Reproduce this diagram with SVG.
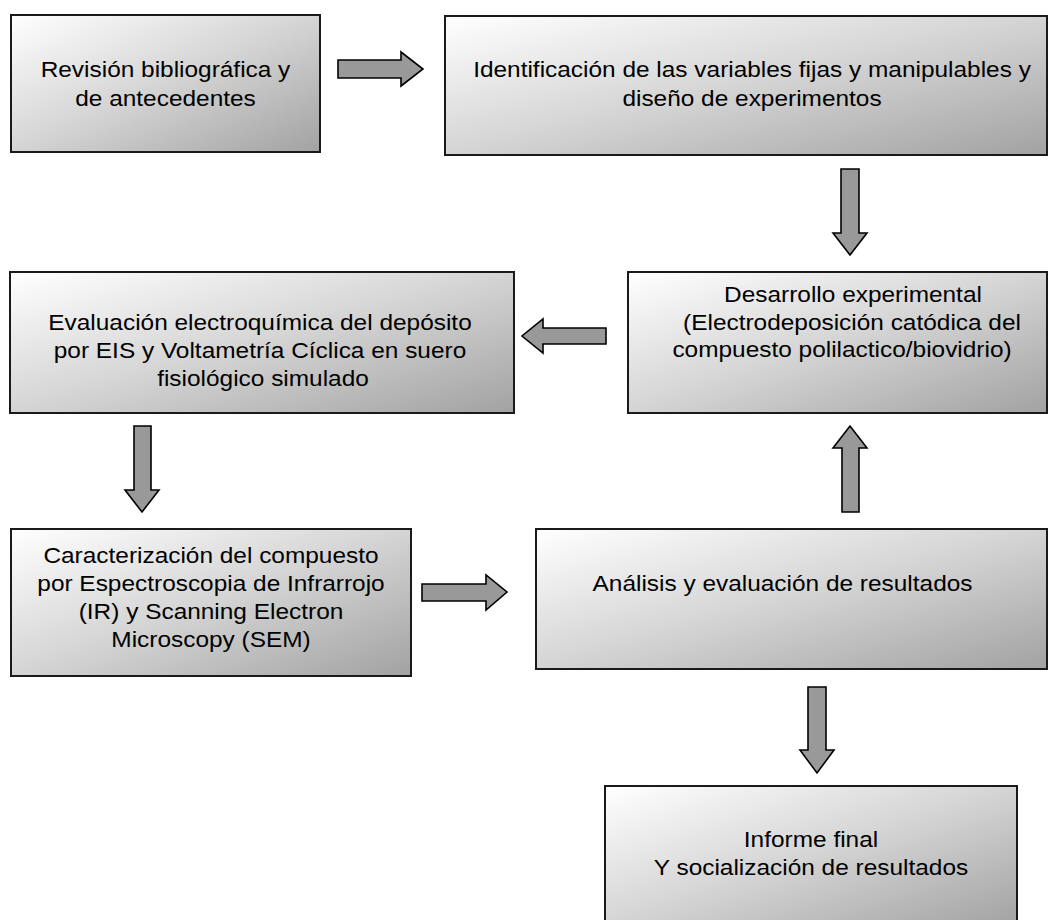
<svg xmlns="http://www.w3.org/2000/svg" width="1049" height="920" viewBox="0 0 1049 920">
<defs>
<linearGradient id="g" x1="0" y1="0" x2="1" y2="1">
<stop offset="0" stop-color="#ffffff"/>
<stop offset="0.5" stop-color="#d4d4d4"/>
<stop offset="1" stop-color="#a2a2a2"/>
</linearGradient>
<style>
.box{fill:url(#g);stroke:#1a1a1a;stroke-width:2}
.arr{fill:#999999;stroke:#000;stroke-width:1.6;stroke-linejoin:miter}
.t{font-family:"Liberation Sans",Arial,sans-serif;font-size:22px;fill:#000;text-anchor:middle}
</style>
</defs>
<rect width="1049" height="920" fill="#ffffff"/>
<g id="connectors">
<polygon class="arr" points="338,60 401,60 401,52 423,69 401,86 401,78 338,78"/>
<polygon class="arr" points="841,169 859,169 859,233 867,233 850,255 833,233 841,233"/>
<polygon class="arr" points="606,328 543,328 543,319 522,336 543,353 543,344 606,344"/>
<polygon class="arr" points="134,426 151,426 151,490 159,490 142,512 125,490 134,490"/>
<polygon class="arr" points="422,584 486,584 486,575 507,592 486,610 486,601 422,601"/>
<polygon class="arr" points="842,512 859,512 859,448 867,448 850,426 833,448 842,448"/>
<polygon class="arr" points="808,687 826,687 826,750 834,750 817,773 800,750 808,750"/>
</g>
<g id="n1">
<rect class="box" x="11" y="15" width="309" height="137"/>
<text class="t" transform="translate(165.5,77) scale(1.11,1)">Revisión bibliográfica y</text>
<text class="t" transform="translate(165.5,106) scale(1.11,1)">de antecedentes</text>
</g>
<g id="n2">
<rect class="box" x="445" y="16" width="602" height="139"/>
<text class="t" transform="translate(752,77) scale(1.11,1)">Identificación de las variables fijas y manipulables y</text>
<text class="t" transform="translate(752,106) scale(1.11,1)">diseño de experimentos</text>
</g>
<g id="n3">
<rect class="box" x="628" y="272" width="419" height="141"/>
<text class="t" transform="translate(853,302) scale(1.11,1)">Desarrollo experimental</text>
<text class="t" transform="translate(852,330) scale(1.11,1)">(Electrodeposición catódica del</text>
<text class="t" transform="translate(842,357) scale(1.11,1)">compuesto polilactico/biovidrio)</text>
</g>
<g id="n4">
<rect class="box" x="10" y="272" width="504" height="141"/>
<text class="t" transform="translate(260,330) scale(1.11,1)">Evaluación electroquímica del depósito</text>
<text class="t" transform="translate(260,358) scale(1.11,1)">por EIS y Voltametría Cíclica en suero</text>
<text class="t" transform="translate(263,386) scale(1.11,1)">fisiológico simulado</text>
</g>
<g id="n5">
<rect class="box" x="11" y="529" width="400" height="147"/>
<text class="t" transform="translate(211,563) scale(1.11,1)">Caracterización del compuesto</text>
<text class="t" transform="translate(211,591) scale(1.11,1)">por Espectroscopia de Infrarrojo</text>
<text class="t" transform="translate(211,619) scale(1.11,1)">(IR) y Scanning Electron</text>
<text class="t" transform="translate(211,647) scale(1.11,1)">Microscopy (SEM)</text>
</g>
<g id="n6">
<rect class="box" x="536" y="529" width="511" height="140"/>
<text class="t" transform="translate(782.5,591) scale(1.11,1)">Análisis y evaluación de resultados</text>
</g>
<g id="n7">
<rect class="box" x="605" y="786" width="412" height="140"/>
<text class="t" transform="translate(811,847) scale(1.11,1)">Informe final</text>
<text class="t" transform="translate(811,875) scale(1.11,1)">Y socialización de resultados</text>
</g>
</svg>
